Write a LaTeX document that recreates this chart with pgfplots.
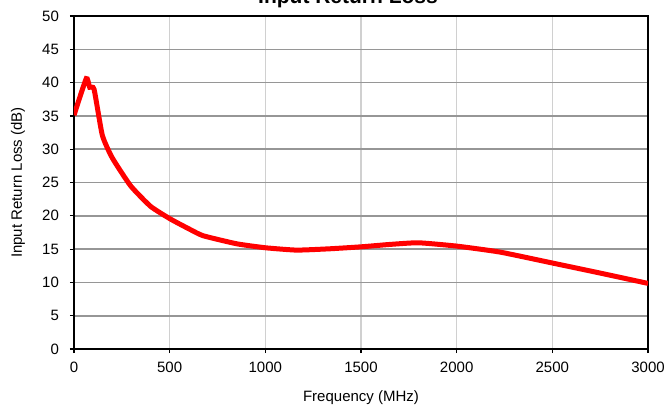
\documentclass[border=0pt]{standalone}
\usepackage{pgfplots}
\pgfplotsset{compat=1.18}
\usepackage{fontspec}
\setmainfont{Liberation Sans}
\definecolor{hgrid}{HTML}{969696}
\definecolor{vgrid}{HTML}{D0D0D0}
\begin{document}
\begin{tikzpicture}
\begin{axis}[
  at={(0,0)}, anchor=south west,
  scale only axis,
  width=287pt, height=166.5pt,
  xmin=0, xmax=3000, ymin=0, ymax=50,
  xtick={0,500,...,3000}, ytick={0,5,...,50},
  scaled x ticks=false,
  /pgf/number format/1000 sep={},
  /pgf/number format/assume math mode=true,
  tick label style={font=\fontsize{7.5}{9}\selectfont, black},
  label style={font=\fontsize{7.5}{9}\selectfont},
  xlabel={Frequency (MHz)},
  ylabel={Input Return Loss (dB)},
  xlabel style={at={(axis description cs:0.5,-0.147)}, anchor=center},
  ylabel style={at={(axis description cs:-0.0976,0.5)}, anchor=center},
  tick align=outside,
  major tick length=2pt,
  xtick pos=bottom, ytick pos=left,
  xtick style={black, line width=0.6pt},
  ytick style={black, line width=0.6pt},
  axis line style={black, line width=0.9pt},
  grid=major,
  x grid style={vgrid, line width=0.6pt},
  y grid style={hgrid, line width=0.8pt},
  yticklabel style={xshift=-2pt},
  xticklabel style={yshift=-1pt},
]
\addplot[red, line width=2.5pt, smooth, tension=0.3] coordinates {
(0,35.1) (64,40.6) (82,39.3) (105,39.0) (148,32.1) (200,28.7) (296,24.5)
(401,21.4) (505,19.5) (610,17.9) (676,17.0) (850,15.8) (1001,15.2)
(1164,14.85) (1338,15.05) (1504,15.35) (1650,15.7) (1800,15.95) (2000,15.45)
(2227,14.55) (2502,12.9) (2750,11.4) (3000,9.85)
};
\end{axis}
\node[font=\bfseries\fontsize{10.5}{12}\selectfont, anchor=base] at (137pt,172.5pt) {Input Return Loss};
\pgfresetboundingbox
\useasboundingbox (-37pt,-29.5pt) rectangle (297pt,174.5pt);
\end{tikzpicture}
\end{document}
